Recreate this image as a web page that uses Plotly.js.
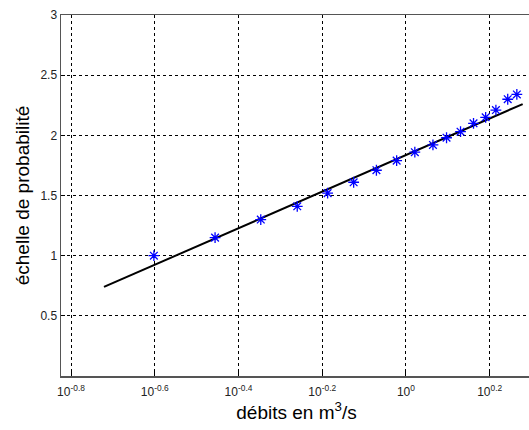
<!DOCTYPE html>
<html>
<head>
<meta charset="utf-8">
<script src="https://cdn.plot.ly/plotly-3.0.1.min.js"></script>
<style>
html,body{margin:0;padding:0;overflow:hidden;background:#fff;}
#chart{width:535px;height:430px;}
</style>
</head>
<body>
<div id="chart"></div>
<script>
// Observed data (débits, échelle de probabilité)
var debits = [0.25, 0.35, 0.45, 0.55, 0.65, 0.75, 0.85, 0.95, 1.05, 1.16, 1.25, 1.35, 1.45, 1.55, 1.64, 1.75, 1.84];
var echelle = [1.00, 1.15, 1.30, 1.41, 1.52, 1.61, 1.71, 1.79, 1.86, 1.92, 1.98, 2.03, 2.10, 2.15, 2.21, 2.30, 2.34];
// Fitted line endpoints
var fitX = [0.19, 1.90];
var fitY = [0.74, 2.26];
// Axis ticks
var xTickVals = [0.158489, 0.251189, 0.398107, 0.630957, 1, 1.584893];
var xTickText = ["10<sup>-0.8</sup>", "10<sup>-0.6</sup>", "10<sup>-0.4</sup>", "10<sup>-0.2</sup>", "10<sup>0</sup>", "10<sup>0.2</sup>"];
var yTickVals = [0.5, 1, 1.5, 2, 2.5, 3];
var yTickText = ["0.5", "1", "1.5", "2", "2.5", "3"];

var font = "Liberation Sans, Arial, sans-serif";

var traces = [
  {
    x: fitX, y: fitY, type: "scatter", mode: "lines",
    line: {color: "#000000", width: 2},
    hoverinfo: "skip", showlegend: false
  },
  {
    x: debits, y: echelle, type: "scatter", mode: "markers",
    marker: {symbol: "asterisk-open", size: 9, color: "#0000ff", line: {color: "#0000ff", width: 1.3}},
    showlegend: false
  }
];

var layout = {
  width: 535, height: 430,
  margin: {l: 61, r: 3, t: 15, b: 54, pad: 0},
  paper_bgcolor: "#ffffff", plot_bgcolor: "#ffffff",
  font: {family: font, size: 12, color: "#222222"},
  showlegend: false,
  xaxis: {
    type: "log",
    range: [Math.log10(0.15), Math.log10(2)],
    tickmode: "array", tickvals: xTickVals, ticktext: xTickText,
    ticks: "inside", ticklen: 4, tickcolor: "#000000",
    ticklabelstandoff: 4,
    showgrid: true, gridcolor: "#000000", gridwidth: 1, griddash: "3px,3px",
    showline: true, linecolor: "#555555", linewidth: 1.5, mirror: true,
    zeroline: false,
    tickfont: {family: font, size: 12, color: "#222222"},
    title: {text: "débits en m<sup>3</sup>/s", font: {family: font, size: 19, color: "#000000"}, standoff: 4}
  },
  yaxis: {
    range: [0, 3],
    tickmode: "array", tickvals: yTickVals, ticktext: yTickText,
    ticks: "inside", ticklen: 4, tickcolor: "#000000",
    showgrid: true, gridcolor: "#000000", gridwidth: 1, griddash: "3px,3px",
    showline: true, linecolor: "#555555", linewidth: 1.5, mirror: true,
    zeroline: false,
    tickfont: {family: font, size: 12, color: "#222222"},
    title: {text: "échelle de probabilité", font: {family: font, size: 19, color: "#000000"}, standoff: 6}
  }
};

Plotly.newPlot("chart", traces, layout, {displayModeBar: false, staticPlot: true});
</script>
</body>
</html>
